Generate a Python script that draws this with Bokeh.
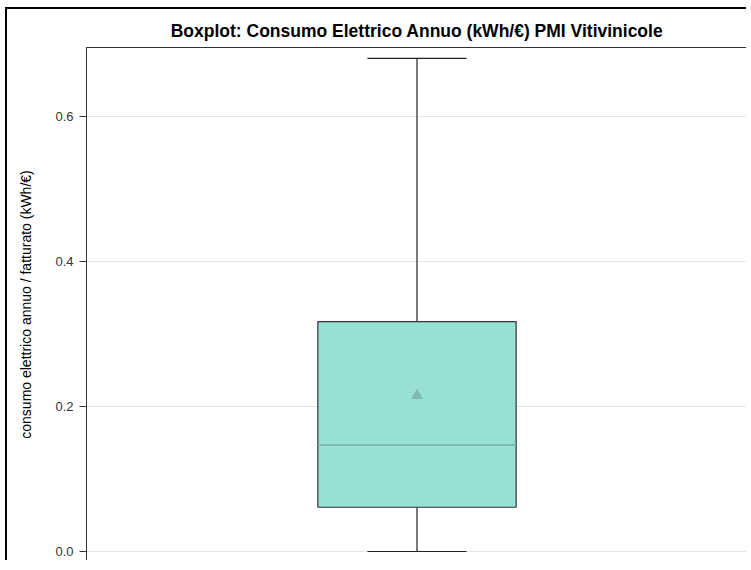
from bokeh.plotting import figure
from bokeh.models import Range1d, FixedTicker, InlineStyleSheet, ColumnDataSource
from bokeh.embed import file_html
from bokeh.resources import INLINE

# ---- data ----
category = ["PMI Vitivinicole"]
whisker_low = [0.0]
q1 = [0.061]
median = [0.147]
q3 = [0.317]
whisker_high = [0.680]
mean = [0.215]
y_ticks = [0.0, 0.2, 0.4, 0.6]

FONT = "Liberation Sans"

p = figure(
    width=741, height=553,
    x_range=Range1d(-0.5, 0.5),
    y_range=Range1d(-0.0138, 0.695),
    output_backend="svg", toolbar_location=None,
    title="Boxplot: Consumo Elettrico Annuo (kWh/€) PMI Vitivinicole",
    min_border_left=79, min_border_right=1, min_border_bottom=1, min_border_top=38,
)
p.margin = (7, 0, 0, 5)
p.stylesheets = [InlineStyleSheet(css=":host { border-top: 2px solid #000; border-left: 2px solid #000; }")]

p.title.align = "center"
p.title.text_font = FONT
p.title.text_font_size = "17.5px"
p.title.text_font_style = "bold"
p.title.text_color = "#000000"
p.title.offset = 0
p.title.standoff = 14

p.xaxis.visible = False
p.xgrid.visible = False
p.ygrid.grid_line_color = "#e4e4e4"
p.ygrid.grid_line_width = 1

p.yaxis.ticker = FixedTicker(ticks=y_ticks)
p.yaxis.major_label_overrides = {t: f"{t:.1f}" for t in y_ticks}
p.yaxis.minor_tick_line_color = None
p.yaxis.major_tick_out = 7
p.yaxis.major_tick_in = 0
p.yaxis.major_tick_line_color = "#333333"
p.yaxis.axis_line_color = "#333333"
p.yaxis.major_label_text_font = FONT
p.yaxis.major_label_text_font_size = "13px"
p.yaxis.major_label_text_color = "#333333"
p.yaxis.major_label_standoff = 6
p.yaxis.axis_label = "consumo elettrico annuo / fatturato (kWh/€)"
p.yaxis.axis_label_text_font = FONT
p.yaxis.axis_label_text_font_size = "14px"
p.yaxis.axis_label_text_font_style = "normal"
p.yaxis.axis_label_text_color = "#000000"
p.yaxis.axis_label_standoff = 18

p.outline_line_color = "#333333"
p.outline_line_width = 1

xs = [0.0]
src = ColumnDataSource(dict(x=xs, lo=whisker_low, q1=q1, med=median, q3=q3, hi=whisker_high, mean=mean))

# whiskers
p.segment(x0="x", y0="q3", x1="x", y1="hi", source=src, line_color="#222222", line_width=1.2)
p.segment(x0="x", y0="lo", x1="x", y1="q1", source=src, line_color="#222222", line_width=1.2)
cap_half = 0.075
p.segment(x0=[x - cap_half for x in xs], y0=whisker_high, x1=[x + cap_half for x in xs], y1=whisker_high,
          line_color="#222222", line_width=1.2)
p.segment(x0=[x - cap_half for x in xs], y0=whisker_low, x1=[x + cap_half for x in xs], y1=whisker_low,
          line_color="#222222", line_width=1.2)

# box
p.vbar(x="x", width=0.3, bottom="q1", top="q3", source=src,
       fill_color="#98dfd4", line_color="#333333", line_width=1.2)
# median
p.segment(x0=[x - 0.15 for x in xs], y0=median, x1=[x + 0.15 for x in xs], y1=median,
          line_color="#80bab2", line_width=2)
# mean
p.scatter(x="x", y="mean", source=src, marker="triangle", size=12,
          fill_color="#80b8b2", line_color=None)

open("out.html", "w").write(file_html(p, INLINE))
